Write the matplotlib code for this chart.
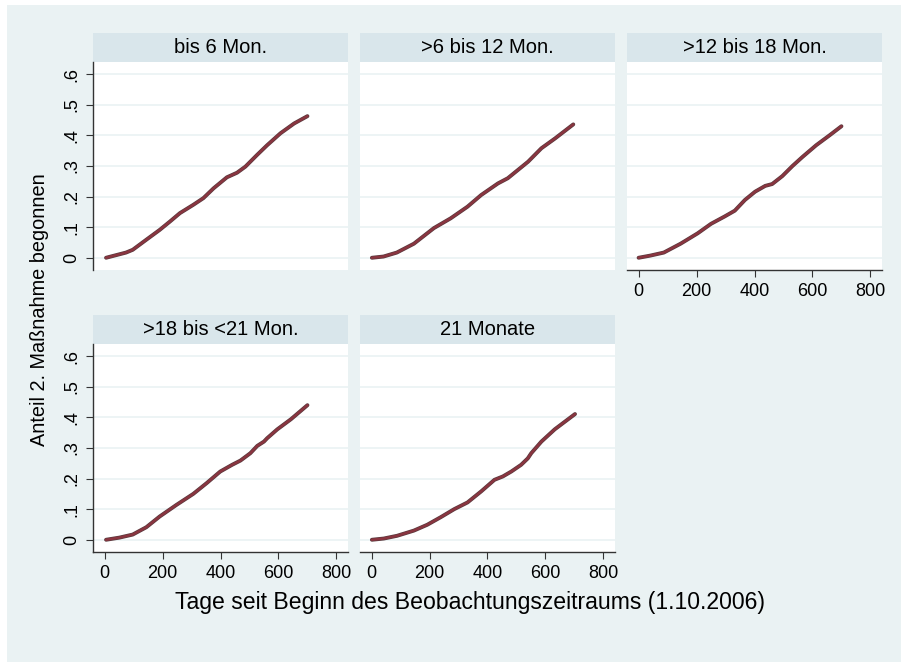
import numpy as np
import matplotlib.pyplot as plt
from matplotlib.patches import Rectangle

plt.rcParams['font.family'] = ['Liberation Sans', 'DejaVu Sans']

# panel titles (by-groups)
titles = ["bis 6 Mon.", ">6 bis 12 Mon.", ">12 bis 18 Mon.", ">18 bis <21 Mon.", "21 Monate"]

# cumulative share per group
days_1 = [5, 74, 97, 144, 190, 225, 260, 306, 341, 376, 422, 457, 486, 526, 561, 607, 654, 700]
share_1 = [0, 0.017, 0.026, 0.059, 0.091, 0.118, 0.146, 0.173, 0.195, 0.227, 0.263, 0.278,
           0.298, 0.336, 0.368, 0.407, 0.439, 0.463]

days_2 = [1, 41, 87, 146, 215, 273, 331, 378, 436, 470, 505, 540, 586, 633, 696]
share_2 = [0, 0.004, 0.017, 0.046, 0.097, 0.129, 0.167, 0.205, 0.243, 0.26, 0.287, 0.314,
           0.358, 0.39, 0.436]

days_3 = [0, 40, 87, 145, 204, 250, 297, 332, 367, 402, 437, 461, 496, 531, 566, 613, 660, 700]
share_3 = [0, 0.007, 0.017, 0.046, 0.08, 0.111, 0.135, 0.154, 0.189, 0.216, 0.235, 0.241,
           0.267, 0.3, 0.33, 0.368, 0.401, 0.43]

days_4 = [5, 51, 97, 144, 190, 248, 306, 352, 399, 440, 469, 503, 527, 550, 561, 596, 643, 700]
share_4 = [0, 0.007, 0.017, 0.041, 0.076, 0.114, 0.15, 0.185, 0.223, 0.245, 0.259, 0.283,
           0.307, 0.321, 0.332, 0.361, 0.394, 0.44]

days_5 = [1, 42, 88, 146, 192, 239, 285, 331, 378, 424, 453, 482, 516, 539, 551, 586, 632, 702]
share_5 = [0, 0.004, 0.013, 0.03, 0.049, 0.074, 0.1, 0.122, 0.158, 0.196, 0.207, 0.223,
           0.245, 0.266, 0.283, 0.321, 0.361, 0.411]

days = [days_1, days_2, days_3, days_4, days_5]
shares = [share_1, share_2, share_3, share_4, share_5]

x_ticks = [0, 200, 400, 600, 800]
y_ticks = [0, 0.1, 0.2, 0.3, 0.4, 0.5, 0.6]
y_ticklabels = ["0", ".1", ".2", ".3", ".4", ".5", ".6"]

W, H = 901, 662
bg = '#EAF2F3'
head = '#D9E6EB'
line_col = '#8A3540'


def frac(x0, y0, x1, y1):
    return [x0 / W, 1 - y1 / H, (x1 - x0) / W, (y1 - y0) / H]


fig = plt.figure(figsize=(W / 100, H / 100), dpi=100)
fig.patch.set_facecolor('white')
fig.patches.append(Rectangle((7 / W, 0), 1, 1 - 5 / H, transform=fig.transFigure,
                             facecolor=bg, edgecolor='none', zorder=-10))

lefts = [93, 360, 627]
rows = [(33, 62, 270), (315, 344, 552)]
pw = 255

for i in range(5):
    r, c = divmod(i, 3)
    htop, ptop, pbot = rows[r]
    l = lefts[c]

    hax = fig.add_axes(frac(l, htop, l + pw, ptop))
    hax.set_facecolor(head)
    hax.set_xticks([])
    hax.set_yticks([])
    for s in hax.spines.values():
        s.set_visible(False)
    hax.text(0.5, 0.5, titles[i], ha='center', va='center', fontsize=14.5,
             transform=hax.transAxes)

    ax = fig.add_axes(frac(l, ptop, l + pw, pbot))
    ax.set_facecolor('white')
    ax.plot(days[i], shares[i], color='#5a3a3e', lw=2.8, solid_capstyle='round')
    ax.plot(days[i], shares[i], color=line_col, lw=1.8, solid_capstyle='round')
    ax.set_xlim(-40, 840)
    ax.set_ylim(-0.04, 0.64)
    ax.set_yticks(y_ticks)
    ax.set_xticks(x_ticks)
    for y in y_ticks:
        ax.axhline(y, color=bg, lw=1.2, zorder=0)
    ax.spines['top'].set_visible(False)
    ax.spines['right'].set_visible(False)
    for s in ['left', 'bottom']:
        ax.spines[s].set_color('#333333')
        ax.spines[s].set_linewidth(1.0)

    show_y = (c == 0)
    show_x = (i >= 2)
    ax.spines['left'].set_visible(show_y)
    ax.spines['bottom'].set_visible(show_x)
    ax.tick_params(axis='y', left=show_y, labelleft=show_y, length=5,
                   color='#333333', labelsize=13, pad=4, labelrotation=90)
    ax.tick_params(axis='x', bottom=show_x, labelbottom=show_x, length=5,
                   color='#333333', labelsize=13, pad=4)
    if show_y:
        ax.set_yticklabels(y_ticklabels)
        for lab in ax.get_yticklabels():
            lab.set_va('center')

fig.text(470 / W, 1 - 603 / H, "Tage seit Beginn des Beobachtungszeitraums (1.10.2006)",
         ha='center', va='center', fontsize=16.6)
fig.text(40 / W, 1 - 310 / H, "Anteil 2. Maßnahme begonnen", ha='center', va='center',
         rotation=90, fontsize=14.3)

fig.savefig('out.png', dpi=100, facecolor=fig.get_facecolor())
